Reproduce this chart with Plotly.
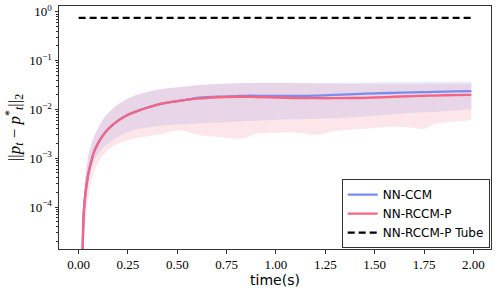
import plotly.graph_objects as go

# time grid (s)
t = [0.018, 0.021, 0.025, 0.03, 0.04, 0.05, 0.065, 0.08, 0.1, 0.125, 0.15, 0.2, 0.25, 0.3, 0.35,
     0.4, 0.45, 0.5, 0.55, 0.6, 0.7, 0.8, 0.85, 0.9, 1.0, 1.1, 1.2, 1.3, 1.4, 1.5, 1.6, 1.7,
     1.75, 1.8, 1.9, 1.99]

# log10 of ||p_t - p_t*||_2
ccm_mean_log10 = [-5.3, -4.7, -4.2, -3.9, -3.55, -3.3, -3.05, -2.85, -2.68, -2.52, -2.40, -2.23,
                  -2.11, -2.03, -1.96, -1.90, -1.86, -1.83, -1.80, -1.765, -1.74, -1.725, -1.72,
                  -1.72, -1.72, -1.72, -1.715, -1.70, -1.685, -1.67, -1.66, -1.65, -1.645, -1.64,
                  -1.63, -1.625]
ccm_upper_log10 = [-4.9, -4.3, -3.85, -3.55, -3.2, -2.95, -2.72, -2.55, -2.38, -2.2, -2.08, -1.9,
                   -1.78, -1.70, -1.64, -1.60, -1.57, -1.55, -1.53, -1.51, -1.48, -1.465, -1.46,
                   -1.46, -1.46, -1.46, -1.46, -1.455, -1.45, -1.445, -1.44, -1.435, -1.43, -1.43,
                   -1.43, -1.43]
ccm_lower_log10 = [-6.0, -5.2, -4.6, -4.25, -3.8, -3.5, -3.22, -3.05, -2.9, -2.78, -2.70, -2.56,
                   -2.46, -2.40, -2.37, -2.34, -2.32, -2.31, -2.30, -2.29, -2.27, -2.25, -2.24,
                   -2.23, -2.21, -2.20, -2.19, -2.18, -2.16, -2.13, -2.10, -2.07, -2.06, -2.05,
                   -2.02, -2.00]

rccm_mean_log10 = [-5.3, -4.7, -4.2, -3.9, -3.55, -3.3, -3.05, -2.85, -2.68, -2.52, -2.40, -2.23,
                   -2.11, -2.03, -1.96, -1.90, -1.86, -1.83, -1.80, -1.78, -1.75, -1.74, -1.74,
                   -1.745, -1.755, -1.765, -1.77, -1.77, -1.765, -1.755, -1.74, -1.725, -1.72,
                   -1.715, -1.705, -1.70]
rccm_upper_log10 = [-4.85, -4.25, -3.8, -3.5, -3.15, -2.92, -2.70, -2.53, -2.36, -2.19, -2.07,
                    -1.89, -1.77, -1.69, -1.63, -1.59, -1.56, -1.54, -1.52, -1.50, -1.48, -1.465,
                    -1.46, -1.46, -1.46, -1.465, -1.47, -1.475, -1.48, -1.48, -1.48, -1.478,
                    -1.477, -1.475, -1.472, -1.47]
rccm_lower_log10 = [-6.5, -5.6, -5.0, -4.6, -4.1, -3.8, -3.45, -3.25, -3.08, -2.93, -2.83, -2.70,
                    -2.63, -2.58, -2.55, -2.52, -2.47, -2.43, -2.45, -2.52, -2.56, -2.60, -2.58,
                    -2.50, -2.48, -2.47, -2.52, -2.44, -2.41, -2.38, -2.35, -2.38, -2.40, -2.30,
                    -2.25, -2.22]

tube_t = [0.0, 1.99]
tube_value = [0.75, 0.75]

ytick_vals = [1e-4, 1e-3, 1e-2, 1e-1, 1e0]
ytick_text = ["10<sup>−4</sup>", "10<sup>−3</sup>", "10<sup>−2</sup>", "10<sup>−1</sup>", "10<sup>0</sup>"]
xtick_vals = [0.0, 0.25, 0.5, 0.75, 1.0, 1.25, 1.5, 1.75, 2.0]
xtick_text = ["0.00", "0.25", "0.50", "0.75", "1.00", "1.25", "1.50", "1.75", "2.00"]


def pw(vals):
    return [10 ** v for v in vals]


BLUE = "rgb(122,140,240)"
RED = "rgb(242,102,132)"
BLUE_FILL = "rgba(100,130,240,0.15)"
RED_FILL = "rgba(240,80,110,0.145)"
SERIF = "Liberation Serif, serif"
SANS = "DejaVu Sans, sans-serif"

fig = go.Figure()

# NN-CCM band
fig.add_trace(go.Scatter(x=t, y=pw(ccm_lower_log10), mode="lines", line=dict(width=0, shape="spline"),
                         showlegend=False, hoverinfo="skip"))
fig.add_trace(go.Scatter(x=t, y=pw(ccm_upper_log10), mode="lines", line=dict(width=0, shape="spline"),
                         fill="tonexty", fillcolor=BLUE_FILL, showlegend=False, hoverinfo="skip"))
# NN-RCCM-P band
fig.add_trace(go.Scatter(x=t, y=pw(rccm_lower_log10), mode="lines", line=dict(width=0, shape="spline"),
                         showlegend=False, hoverinfo="skip"))
fig.add_trace(go.Scatter(x=t, y=pw(rccm_upper_log10), mode="lines", line=dict(width=0, shape="spline"),
                         fill="tonexty", fillcolor=RED_FILL, showlegend=False, hoverinfo="skip"))

fig.add_trace(go.Scatter(x=t, y=pw(ccm_mean_log10), mode="lines", name="NN-CCM",
                         line=dict(color=BLUE, width=2.3, shape="spline")))
fig.add_trace(go.Scatter(x=t, y=pw(rccm_mean_log10), mode="lines", name="NN-RCCM-P",
                         line=dict(color=RED, width=2.3, shape="spline")))
fig.add_trace(go.Scatter(x=tube_t, y=tube_value, mode="lines", name="NN-RCCM-P Tube",
                         line=dict(color="black", width=2.2, dash="7px,4px")))

minor_vals = [k * 10 ** e for e in range(-5, 1) for k in range(2, 10)]

fig.update_layout(
    width=498, height=296,
    margin=dict(l=59, r=7, t=6, b=47, autoexpand=False),
    plot_bgcolor="white", paper_bgcolor="white",
    font=dict(family=SERIF, size=12, color="black"),
    legend=dict(x=0.997, y=0.004, xanchor="right", yanchor="bottom", traceorder="normal",
                bgcolor="rgba(255,255,255,0.9)", bordercolor="#333", borderwidth=1,
                font=dict(family=SANS, size=12, color="black"),
                tracegroupgap=0, itemwidth=30),
)
fig.update_xaxes(
    range=[-0.0995, 2.0895], tickmode="array", tickvals=xtick_vals, ticktext=xtick_text,
    showgrid=False, zeroline=False, showline=True, linecolor="#333", linewidth=1, mirror=True,
    ticks="outside", ticklen=3.5, tickcolor="#333", automargin=False,
    tickfont=dict(family=SERIF, size=13),
    title=dict(text="time(s)", font=dict(family=SANS, size=14), standoff=4),
)
fig.update_yaxes(
    type="log", range=[-4.86, 0.12], tickmode="array", tickvals=ytick_vals, ticktext=ytick_text,
    showgrid=False, zeroline=False, showline=True, linecolor="#333", linewidth=1, mirror=True,
    ticks="outside", ticklen=3.5, tickcolor="#333", automargin=False,
    minor=dict(tickmode="array", tickvals=minor_vals, ticks="outside", ticklen=2, tickcolor="#333",
               showgrid=False),
    tickfont=dict(family=SERIF, size=13),
    title=dict(text="||<i>p<sub>t</sub></i> − <i>p</i><sup>*</sup><sub><i>t</i></sub>||<sub>2</sub>",
               font=dict(family=SERIF, size=17), standoff=4),
)

fig.write_html("out.html", config={"displayModeBar": False},
               post_script="document.body.style.margin='0';document.body.style.padding='0';")
